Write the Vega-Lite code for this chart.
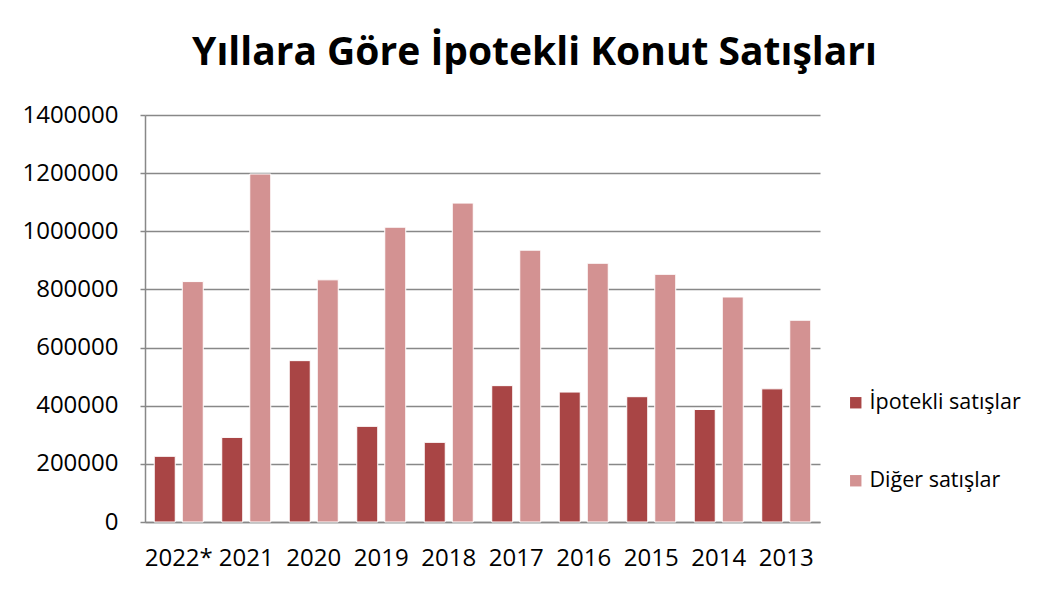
{
  "$schema": "https://vega.github.io/schema/vega-lite/v6.json",
  "width": 675,
  "height": 407,
  "autosize": "none",
  "padding": {"left": 145, "top": 115, "right": 236, "bottom": 70},
  "background": "white",
  "title": {
    "text": "Yıllara Göre İpotekli Konut Satışları",
    "font": "Open Sans",
    "fontSize": 39,
    "fontWeight": "bold",
    "color": "#000000",
    "anchor": "middle",
    "frame": "group",
    "dx": 52,
    "offset": 30
  },
  "data": {
    "values": [
      {"yil": "2022*", "tur": "İpotekli satışlar", "adet": 226000},
      {"yil": "2022*", "tur": "Diğer satışlar", "adet": 827000},
      {"yil": "2021", "tur": "İpotekli satışlar", "adet": 291000},
      {"yil": "2021", "tur": "Diğer satışlar", "adet": 1197000},
      {"yil": "2020", "tur": "İpotekli satışlar", "adet": 555000},
      {"yil": "2020", "tur": "Diğer satışlar", "adet": 833000},
      {"yil": "2019", "tur": "İpotekli satışlar", "adet": 329000},
      {"yil": "2019", "tur": "Diğer satışlar", "adet": 1014000},
      {"yil": "2018", "tur": "İpotekli satışlar", "adet": 274000},
      {"yil": "2018", "tur": "Diğer satışlar", "adet": 1097000},
      {"yil": "2017", "tur": "İpotekli satışlar", "adet": 469000},
      {"yil": "2017", "tur": "Diğer satışlar", "adet": 935000},
      {"yil": "2016", "tur": "İpotekli satışlar", "adet": 447000},
      {"yil": "2016", "tur": "Diğer satışlar", "adet": 890000},
      {"yil": "2015", "tur": "İpotekli satışlar", "adet": 431000},
      {"yil": "2015", "tur": "Diğer satışlar", "adet": 852000},
      {"yil": "2014", "tur": "İpotekli satışlar", "adet": 387000},
      {"yil": "2014", "tur": "Diğer satışlar", "adet": 774000},
      {"yil": "2013", "tur": "İpotekli satışlar", "adet": 458000},
      {"yil": "2013", "tur": "Diğer satışlar", "adet": 694000}
    ]
  },
  "mark": {"type": "bar", "stroke": "white", "strokeWidth": 1},
  "encoding": {
    "x": {
      "field": "yil",
      "type": "nominal",
      "sort": null,
      "scale": {"paddingInner": 0, "paddingOuter": 0},
      "axis": {
        "title": null,
        "labelAngle": 0,
        "labelFont": "Open Sans",
        "labelFontSize": 24,
        "labelColor": "#000000",
        "labelPadding": 24,
        "ticks": false,
        "domainColor": "#888888",
        "domainWidth": 1.5
      }
    },
    "xOffset": {
      "field": "tur",
      "type": "nominal",
      "sort": ["İpotekli satışlar", "Diğer satışlar"],
      "scale": {"paddingInner": 0.25, "paddingOuter": 0.33}
    },
    "y": {
      "field": "adet",
      "type": "quantitative",
      "scale": {"domain": [0, 1400000], "nice": false},
      "axis": {
        "title": null,
        "values": [0, 200000, 400000, 600000, 800000, 1000000, 1200000, 1400000],
        "format": "d",
        "labelFont": "Open Sans",
        "labelFontSize": 24,
        "labelColor": "#000000",
        "labelPadding": 22,
        "tickSize": 5,
        "tickColor": "#888888",
        "tickWidth": 1.5,
        "domainColor": "#888888",
        "domainWidth": 1.5,
        "gridColor": "#888888",
        "gridWidth": 1.5
      }
    },
    "color": {
      "field": "tur",
      "type": "nominal",
      "sort": ["İpotekli satışlar", "Diğer satışlar"],
      "scale": {"domain": ["İpotekli satışlar", "Diğer satışlar"], "range": ["#A94545", "#D39292"]},
      "legend": {
        "title": null,
        "orient": "none",
        "legendX": 700,
        "legendY": 277,
        "symbolType": "square",
        "symbolSize": 130,
        "symbolStrokeWidth": 0,
        "labelFont": "Open Sans",
        "labelFontSize": 21.5,
        "labelColor": "#000000",
        "labelOffset": 3,
        "rowPadding": 55
      }
    }
  },
  "config": {"view": {"stroke": null}}
}
